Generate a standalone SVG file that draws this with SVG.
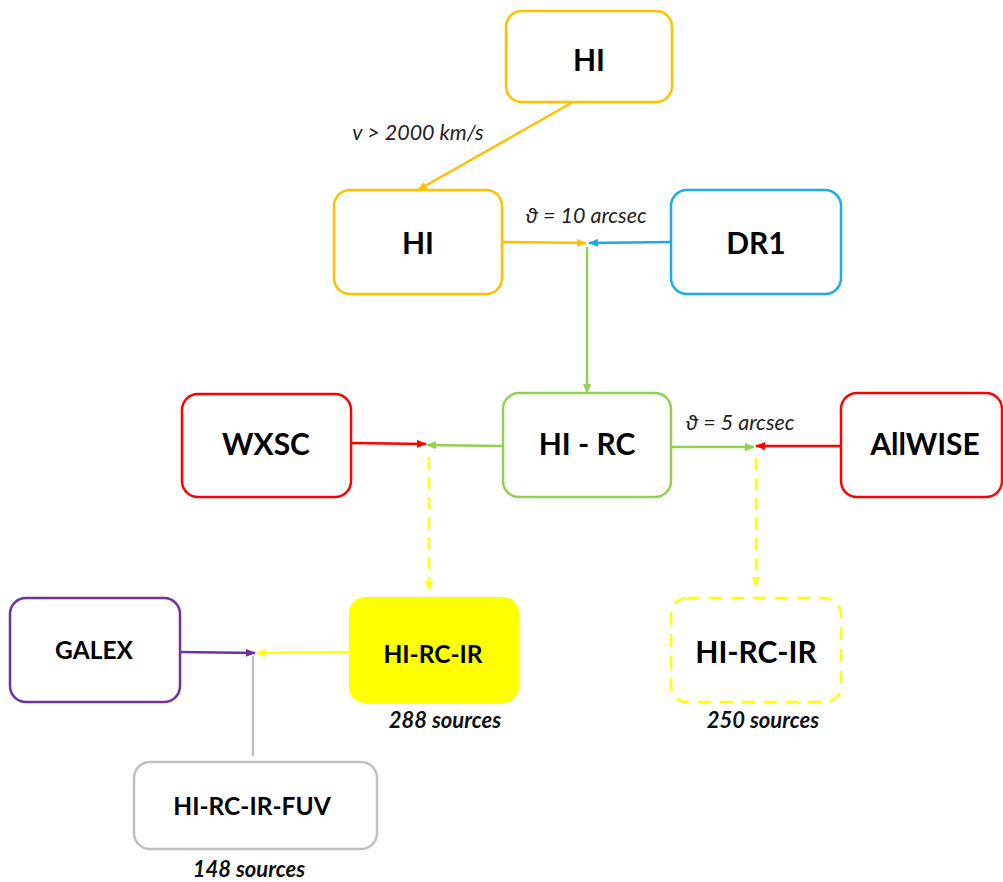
<svg xmlns="http://www.w3.org/2000/svg" width="1003" height="882" viewBox="0 0 1003 882">
<style>
.n{fill:#fff;stroke-width:2.5}
.t{font-family:Lato,"Liberation Sans",sans-serif;font-weight:bold;fill:#000;text-anchor:middle}
.b{font-size:30px}
.s{font-size:24.5px}
.l{font-family:Lato,"Liberation Sans",sans-serif;font-style:italic;font-size:21.5px;fill:#222;text-anchor:middle}
.c{font-family:Lato,"Liberation Sans",sans-serif;font-style:italic;font-weight:bold;font-size:22px;fill:#111;text-anchor:middle}
.e{fill:none;stroke-width:2.5}
</style>
<defs>
<marker id="ao" markerWidth="10" markerHeight="8" refX="9" refY="4" orient="auto" markerUnits="userSpaceOnUse"><path d="M0,0 L10,4 L0,8 Z" fill="#FFC000"/></marker>
<marker id="ab" markerWidth="10" markerHeight="8" refX="9" refY="4" orient="auto" markerUnits="userSpaceOnUse"><path d="M0,0 L10,4 L0,8 Z" fill="#1AABE8"/></marker>
<marker id="ag" markerWidth="10" markerHeight="8" refX="9" refY="4" orient="auto" markerUnits="userSpaceOnUse"><path d="M0,0 L10,4 L0,8 Z" fill="#92D050"/></marker>
<marker id="ar" markerWidth="10" markerHeight="8" refX="9" refY="4" orient="auto" markerUnits="userSpaceOnUse"><path d="M0,0 L10,4 L0,8 Z" fill="#FF0000"/></marker>
<marker id="ay" markerWidth="10" markerHeight="8" refX="9" refY="4" orient="auto" markerUnits="userSpaceOnUse"><path d="M0,0 L10,4 L0,8 Z" fill="#FFFF00"/></marker>
<marker id="ap" markerWidth="10" markerHeight="8" refX="9" refY="4" orient="auto" markerUnits="userSpaceOnUse"><path d="M0,0 L10,4 L0,8 Z" fill="#7030A0"/></marker>
</defs>
<rect width="1003" height="882" fill="#fff"/>
<g id="connectors">
<line class="e" x1="573" y1="102" x2="418" y2="190" stroke="#FFC000" marker-end="url(#ao)"/>
<line class="e" x1="502" y1="242" x2="586" y2="243" stroke="#FFC000" marker-end="url(#ao)"/>
<line class="e" x1="671" y1="242" x2="589" y2="243" stroke="#1AABE8" marker-end="url(#ab)"/>
<line class="e" x1="587" y1="247" x2="587" y2="393" stroke="#92D050" marker-end="url(#ag)"/>
<line class="e" x1="503" y1="446" x2="427" y2="445" stroke="#92D050" marker-end="url(#ag)"/>
<line class="e" x1="351" y1="443" x2="426" y2="444" stroke="#FF0000" marker-end="url(#ar)"/>
<line class="e" x1="429" y1="457" x2="429" y2="590" stroke="#FFFF00" stroke-dasharray="12,8" marker-end="url(#ay)"/>
<line class="e" x1="671" y1="447" x2="754" y2="447" stroke="#92D050" marker-end="url(#ag)"/>
<line class="e" x1="841" y1="446" x2="756" y2="446" stroke="#FF0000" marker-end="url(#ar)"/>
<line class="e" x1="756" y1="458" x2="756" y2="586" stroke="#FFFF00" stroke-dasharray="12,8" marker-end="url(#ay)"/>
<line class="e" x1="180" y1="652" x2="255" y2="653" stroke="#7030A0" marker-end="url(#ap)"/>
<line class="e" x1="349" y1="652" x2="257" y2="653" stroke="#FFFF00" marker-end="url(#ay)"/>
<line class="e" x1="253" y1="656" x2="253" y2="756" stroke="#BFBFBF"/>
</g>
<g id="label-v"><text class="l" x="418" y="140">v &gt; 2000 km/s</text></g>
<g id="label-10"><text class="l" x="586" y="223">ϑ = 10 arcsec</text></g>
<g id="label-5"><text class="l" x="740" y="430">ϑ = 5 arcsec</text></g>
<g id="hi-top"><rect class="n" x="506" y="11" width="166" height="91" rx="16" stroke="#FFC000"/><text class="t b" x="589" y="71">HI</text></g>
<g id="hi"><rect class="n" x="334" y="190" width="168" height="104" rx="16" stroke="#FFC000"/><text class="t b" x="418" y="254">HI</text></g>
<g id="dr1"><rect class="n" x="671" y="190" width="170" height="104" rx="16" stroke="#1AABE8"/><text class="t b" x="756" y="254">DR1</text></g>
<g id="hirc"><rect class="n" x="503" y="393" width="168" height="104" rx="16" stroke="#92D050"/><text class="t b" x="587" y="455">HI - RC</text></g>
<g id="wxsc"><rect class="n" x="182" y="394" width="169" height="103" rx="16" stroke="#FF0000"/><text class="t b" x="266" y="455">WXSC</text></g>
<g id="allwise"><rect class="n" x="841" y="393" width="161" height="104" rx="16" stroke="#FF0000"/><text class="t b" x="925" y="455">AllWISE</text></g>
<g id="galex"><rect class="n" x="10" y="598" width="170" height="104" rx="16" stroke="#7030A0"/><text class="t s" x="94" y="659">GALEX</text></g>
<g id="hircir1"><rect x="349" y="597" width="170" height="106" rx="16" fill="#FFFF00"/><text class="t s" x="433" y="663">HI-RC-IR</text><text class="c" x="445" y="728">288 sources</text></g>
<g id="hircir2"><rect x="671" y="598" width="170" height="104" rx="16" fill="#fff" stroke="#FFFF00" stroke-width="2.5" stroke-dasharray="13,9"/><text class="t b" x="756" y="663">HI-RC-IR</text><text class="c" x="763" y="728">250 sources</text></g>
<g id="hircirfuv"><rect class="n" x="134" y="762" width="243" height="87" rx="16" stroke="#BFBFBF"/><text class="t s" x="252" y="815">HI-RC-IR-FUV</text><text class="c" x="249" y="877">148 sources</text></g>
</svg>
